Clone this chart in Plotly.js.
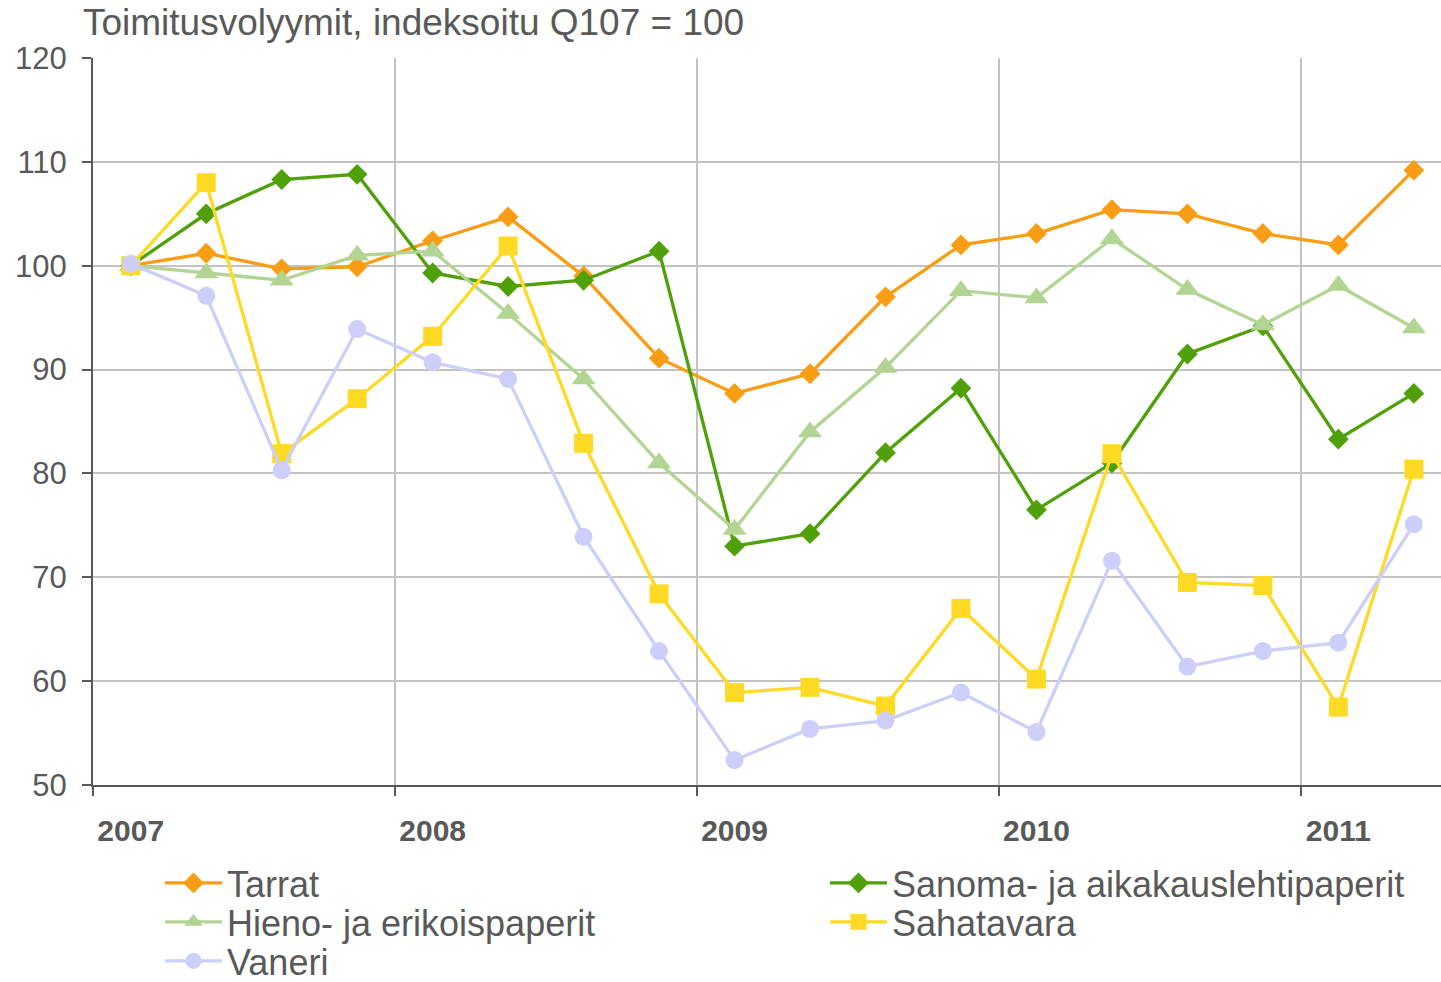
<!DOCTYPE html>
<html><head><meta charset="utf-8">
<script src="https://cdn.plot.ly/plotly-3.0.1.min.js"></script>
<style>html,body{margin:0;padding:0;background:#fff}</style>
</head><body><div id="chart" style="width:1441px;height:982px"></div>
<script>
const quarters = ['Q1 2007','Q2 2007','Q3 2007','Q4 2007','Q1 2008','Q2 2008','Q3 2008','Q4 2008',
  'Q1 2009','Q2 2009','Q3 2009','Q4 2009','Q1 2010','Q2 2010','Q3 2010','Q4 2010','Q1 2011','Q2 2011'];
const seriesNames = ['Tarrat','Sanoma- ja aikakauslehtipaperit','Hieno- ja erikoispaperit','Sahatavara','Vaneri'];
const tarrat = [100, 101.2, 99.7, 99.9, 102.4, 104.7, 99.0, 91.1, 87.7, 89.6, 97.0, 102.0, 103.1, 105.4, 105.0, 103.1, 102.0, 109.2];
const sanoma = [100, 105.0, 108.3, 108.8, 99.3, 98.0, 98.6, 101.4, 73.0, 74.2, 82.0, 88.2, 76.5, 81.0, 91.5, 94.2, 83.3, 87.7];
const hieno = [100, 99.3, 98.6, 101.0, 101.4, 95.4, 89.1, 81.0, 74.6, 84.0, 90.2, 97.6, 96.9, 102.6, 97.7, 94.3, 98.1, 94.0];
const sahatavara = [100, 108.0, 81.9, 87.2, 93.2, 101.9, 82.9, 68.4, 58.9, 59.4, 57.6, 67.0, 60.2, 81.9, 69.5, 69.2, 57.5, 80.4];
const vaneri = [100.2, 97.1, 80.3, 93.9, 90.7, 89.1, 73.9, 62.9, 52.4, 55.4, 56.2, 58.9, 55.1, 71.6, 61.4, 62.9, 63.7, 75.1];
const titleText = 'Toimitusvolyymit, indeksoitu Q107 = 100';

const xIdx = quarters.map((q, i) => i);
const yearIdx = xIdx.filter(i => quarters[i].startsWith('Q1'));
const yearText = yearIdx.map(i => quarters[i].split(' ')[1]);
const yearBoundaries = yearIdx.map(i => i - 0.5);

const txt = '#595959';
const fam = 'Liberation Sans, Arial, sans-serif';
const styles = [
  {color:'#F99D14', symbol:'diamond', size:16, legend:'legend'},
  {color:'#50A00A', symbol:'diamond', size:16, legend:'legend2'},
  {color:'#B2D593', symbol:'triangle-up', size:21, legend:'legend3'},
  {color:'#FFDA24', symbol:'square', size:19, legend:'legend4'},
  {color:'#CDCFFA', symbol:'circle', size:18, legend:'legend5'}
];
const values = [tarrat, sanoma, hieno, sahatavara, vaneri];

const traces = values.map((v, k) => ({
  type:'scatter', mode:'lines+markers', x:xIdx, y:v, name:seriesNames[k],
  line:{color:styles[k].color, width:3.3},
  marker:{color:styles[k].color, symbol:styles[k].symbol, size:styles[k].size},
  legend:styles[k].legend, showlegend:true, hoverinfo:'skip'
}));

function leg(x, y) {
  return {visible:true, x:x, y:y, xanchor:'left', yanchor:'middle', orientation:'v',
    font:{family:fam, size:36, color:txt}, bgcolor:'rgba(0,0,0,0)', itemwidth:57};
}

const layout = {
  width:1441, height:982, showlegend:true,
  margin:{l:93, r:0, t:58, b:197, autoexpand:false},
  paper_bgcolor:'#fff', plot_bgcolor:'#fff',
  title:{text:titleText, x:83/1441, xref:'container', xanchor:'left', y:1-22/982, yref:'container', yanchor:'middle',
    font:{family:fam, size:37, color:txt}},
  xaxis:{range:[-0.5, 17.36], showgrid:false, zeroline:false, showline:true, linecolor:'#595959', linewidth:2,
    tickvals:yearIdx, ticktext:yearText, ticks:'', ticklabelstandoff:18,
    tickfont:{family:fam, size:30, color:txt, weight:'bold'},
    minor:{tickvals:yearBoundaries, showgrid:true, gridcolor:'#C3C3C3', gridwidth:2, ticks:'outside', ticklen:9, tickwidth:2, tickcolor:'#595959'}},
  yaxis:{range:[50,120], dtick:10, tick0:50, showgrid:true, gridcolor:'#C3C3C3', gridwidth:2, zeroline:false,
    showline:true, linecolor:'#595959', linewidth:2, ticks:'outside', ticklen:9, tickwidth:2, tickcolor:'#595959',
    ticklabelstandoff:9, tickfont:{family:fam, size:31, color:txt}},
  legend:leg(0.0497, -0.1348),
  legend2:leg(0.543, -0.1348),
  legend3:leg(0.0497, -0.1884),
  legend4:leg(0.543, -0.1884),
  legend5:leg(0.0497, -0.2421),
  hovermode:false
};
Plotly.newPlot('chart', traces, layout, {displayModeBar:false, staticPlot:true});
</script></body></html>
